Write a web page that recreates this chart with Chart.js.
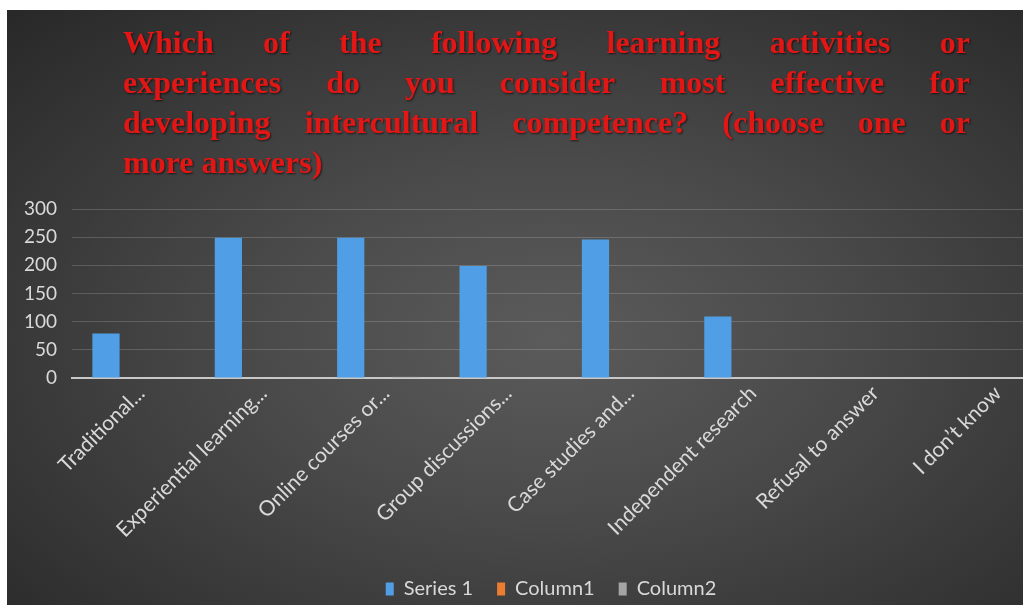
<!DOCTYPE html>
<html>
<head>
<meta charset="utf-8">
<script src="https://cdn.jsdelivr.net/npm/chart.js@4.4.0/dist/chart.umd.min.js"></script>
<style>
    html, body { margin: 0; padding: 0; background: #fff; width: 1023px; height: 605px; overflow: hidden; }
    #wrap {
        position: absolute; left: 7px; top: 10px; width: 1088px; height: 595px;
        background: radial-gradient(ellipse farthest-corner at 50% 55%, #5b5b5b 0%, #4a4a4a 38%, #282828 100%);
    }
    #title {
        position: absolute; left: 116px; top: 12px; width: 847px;
        font: bold 32px "Liberation Serif", serif; color: #e31616; line-height: 40px;
        text-shadow: 1px 1px 2px rgba(0, 0, 0, 0.6);
    }
    #title div { text-align: justify; text-align-last: justify; white-space: nowrap; }
    #title div.last { text-align-last: left; }
    canvas { position: absolute; left: 0; top: 0; }
</style>
</head>
<body>
<div id="wrap">
    <canvas id="chart_canvas" width="1088" height="595"></canvas>
    <div id="title">
        <div>Which of the following learning activities or</div>
        <div>experiences do you consider most effective for</div>
        <div>developing intercultural competence? (choose one or</div>
        <div class="last">more answers)</div>
    </div>
</div>
<script>
const categories = [
    'Traditional...',
    'Experiential learning...',
    'Online courses or...',
    'Group discussions...',
    'Case studies and...',
    'Independent research',
    'Refusal to answer',
    'I don\u2019t know'
];
const series1 = [79, 249, 249, 199, 246, 109, 0, 0];
const column1 = [0, 0, 0, 0, 0, 0, 0, 0];
const column2 = [0, 0, 2, 0, 0, 0, 0, 0];
const yTicks = [0, 50, 100, 150, 200, 250, 300];

const labelColor = '#d9d9d9';

// the chart is cropped on the right, so centre the legend on the whole canvas
const legendShift = {
    id: 'legendShift',
    afterLayout(chart) {
        chart.legend.left += 22;
        chart.legend.right += 22;
    }
};

const ctx = document.getElementById('chart_canvas').getContext('2d');
const chart = new Chart(ctx, {
    type: 'bar',
    data: {
        labels: categories,
        datasets: [
            { label: 'Series 1', data: series1, backgroundColor: '#509fe6' },
            { label: 'Column1', data: column1, backgroundColor: '#ed7d31' },
            { label: 'Column2', data: column2, backgroundColor: '#a5a5a5' }
        ]
    },
    plugins: [legendShift],
    options: {
        responsive: false,
        animation: false,
        layout: { padding: { top: 199, right: 44, left: 0, bottom: -4 } },
        datasets: { bar: { categoryPercentage: 0.667, barPercentage: 1 } },
        plugins: {
            tooltip: { enabled: false },
            legend: {
                position: 'bottom',
                labels: {
                    color: labelColor,
                    font: { family: 'Lato', size: 20 },
                    boxWidth: 8,
                    boxHeight: 13,
                    padding: 24
                }
            }
        },
        scales: {
            x: {
                grid: { display: false },
                border: { color: '#c8c8c8', width: 2 },
                ticks: {
                    color: labelColor,
                    font: { family: 'Lato', size: 21 },
                    minRotation: 45,
                    maxRotation: 45,
                    autoSkip: false,
                    labelOffset: 8,
                    padding: -5
                },
                afterFit: s => { s.height = 177; }
            },
            y: {
                min: 0,
                max: 300,
                afterBuildTicks: s => { s.ticks = yTicks.map(v => ({ value: v })); },
                grid: {
                    drawTicks: false,
                    color: c => (c.tick && c.tick.value === 0) ? 'rgba(0,0,0,0)' : 'rgba(255,255,255,0.17)'
                },
                border: { display: false },
                ticks: {
                    color: labelColor,
                    font: { family: 'Lato', size: 19 },
                    padding: 15
                },
                afterFit: s => { s.width = 65; }
            }
        }
    }
});
</script>
</body>
</html>
